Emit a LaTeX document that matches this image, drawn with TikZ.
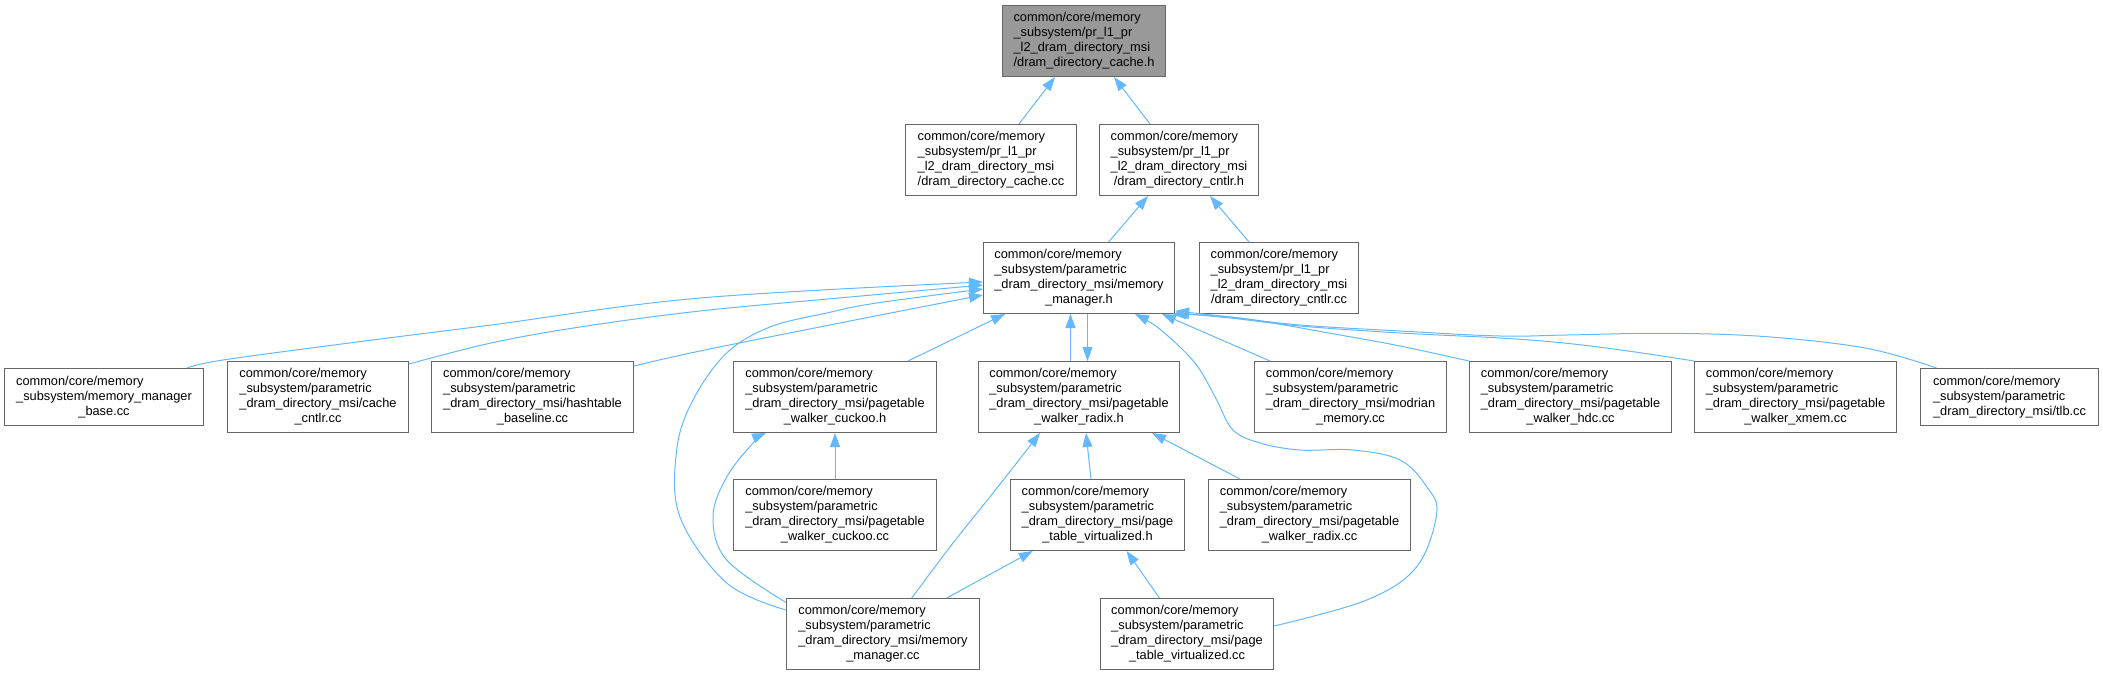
\documentclass[tikz,border=0pt]{standalone}
\usepackage{fontspec}
\setmainfont{Liberation Sans}
\usetikzlibrary{arrows.meta}
\definecolor{edgecol}{HTML}{63B8FF}
\definecolor{boxline}{HTML}{666666}
\definecolor{rootfill}{HTML}{999999}
\newcommand{\dlab}[2]{\begin{tabular}{@{}l@{}}#1\\\multicolumn{1}{@{}c@{}}{#2}\end{tabular}}
\tikzset{
  box/.style={draw=boxline, line width=1pt, fill=white, inner sep=0pt,
    font=\fontsize{12.8pt}{15pt}\selectfont, text=black},
  four/.style={minimum height=71pt},
  three/.style={minimum height=57pt},
  dep/.style={draw=edgecol, line width=1pt, -{Triangle[length=14pt,width=10pt]}},
}
\begin{document}
\begin{tikzpicture}[x=1pt,y=-1pt]
\useasboundingbox (0,0) rectangle (2103,675);
% row 0
\node[box, four, fill=rootfill, minimum width=163pt] (root) at (1084,41)
  {\dlab{common/core/memory\\\_subsystem/pr\_l1\_pr\\\_l2\_dram\_directory\_msi}{/dram\_directory\_cache.h}};
% row 1
\node[box, four, minimum width=171pt] (A) at (991,160)
  {\dlab{common/core/memory\\\_subsystem/pr\_l1\_pr\\\_l2\_dram\_directory\_msi}{/dram\_directory\_cache.cc}};
\node[box, four, minimum width=159pt] (B) at (1179,160)
  {\dlab{common/core/memory\\\_subsystem/pr\_l1\_pr\\\_l2\_dram\_directory\_msi}{/dram\_directory\_cntlr.h}};
% row 2
\node[box, four, minimum width=191pt] (C) at (1079,278)
  {\dlab{common/core/memory\\\_subsystem/parametric\\\_dram\_directory\_msi/memory}{\_manager.h}};
\node[box, four, minimum width=159pt] (D) at (1279,278)
  {\dlab{common/core/memory\\\_subsystem/pr\_l1\_pr\\\_l2\_dram\_directory\_msi}{/dram\_directory\_cntlr.cc}};
% row 3
\node[box, three, minimum width=199pt] (E) at (104,397)
  {\dlab{common/core/memory\\\_subsystem/memory\_manager}{\_base.cc}};
\node[box, four, minimum width=181pt] (N) at (318,397)
  {\dlab{common/core/memory\\\_subsystem/parametric\\\_dram\_directory\_msi/cache}{\_cntlr.cc}};
\node[box, four, minimum width=202pt] (O) at (532.5,397)
  {\dlab{common/core/memory\\\_subsystem/parametric\\\_dram\_directory\_msi/hashtable}{\_baseline.cc}};
\node[box, four, minimum width=203pt] (P) at (835,397)
  {\dlab{common/core/memory\\\_subsystem/parametric\\\_dram\_directory\_msi/pagetable}{\_walker\_cuckoo.h}};
\node[box, four, minimum width=201pt] (F) at (1079,397)
  {\dlab{common/core/memory\\\_subsystem/parametric\\\_dram\_directory\_msi/pagetable}{\_walker\_radix.h}};
\node[box, four, minimum width=192pt] (G) at (1350.5,397)
  {\dlab{common/core/memory\\\_subsystem/parametric\\\_dram\_directory\_msi/modrian}{\_memory.cc}};
\node[box, four, minimum width=202pt] (H) at (1570.5,397)
  {\dlab{common/core/memory\\\_subsystem/parametric\\\_dram\_directory\_msi/pagetable}{\_walker\_hdc.cc}};
\node[box, four, minimum width=202pt] (I) at (1795.5,397)
  {\dlab{common/core/memory\\\_subsystem/parametric\\\_dram\_directory\_msi/pagetable}{\_walker\_xmem.cc}};
\node[box, three, minimum width=178pt] (J) at (2009.5,397)
  {\dlab{common/core/memory\\\_subsystem/parametric}{\_dram\_directory\_msi/tlb.cc}};
% row 4
\node[box, four, minimum width=203pt] (Q) at (835,515)
  {\dlab{common/core/memory\\\_subsystem/parametric\\\_dram\_directory\_msi/pagetable}{\_walker\_cuckoo.cc}};
\node[box, four, minimum width=174pt] (K) at (1097.5,515)
  {\dlab{common/core/memory\\\_subsystem/parametric\\\_dram\_directory\_msi/page}{\_table\_virtualized.h}};
\node[box, four, minimum width=202pt] (L) at (1309.5,515)
  {\dlab{common/core/memory\\\_subsystem/parametric\\\_dram\_directory\_msi/pagetable}{\_walker\_radix.cc}};
% row 5
\node[box, four, minimum width=193pt] (R) at (883,634)
  {\dlab{common/core/memory\\\_subsystem/parametric\\\_dram\_directory\_msi/memory}{\_manager.cc}};
\node[box, four, minimum width=173pt] (M) at (1187,634)
  {\dlab{common/core/memory\\\_subsystem/parametric\\\_dram\_directory\_msi/page}{\_table\_virtualized.cc}};

% edges to root and B
\draw[dep] ([xshift=28pt]A.north) -- ([xshift=-29pt]root.south);
\draw[dep] ([xshift=-29pt]B.north) -- ([xshift=30pt]root.south);
\draw[dep] ([xshift=29.5pt]C.north) -- ([xshift=-31pt]B.south);
\draw[dep] ([xshift=-30pt]D.north) -- ([xshift=31pt]B.south);

% edges into C from the left
\draw[dep] plot[smooth, tension=0.6] coordinates {([xshift=83pt]E.north) (223,360) (357,342) (491,325) (700,298) ([yshift=-4pt]C.west)};
\draw[dep] plot[smooth, tension=0.6] coordinates {([yshift=-3pt]N.north east) (491,343) (580,327) (700,311) (850,297) ([yshift=-7pt]C.west)};
\draw[dep] plot[smooth, tension=0.6] coordinates {([yshift=-5pt]O.north east) (700,351) (850,321) ([yshift=-17pt]C.west)};
\draw[dep] plot[smooth, tension=0.6] coordinates {([yshift=24pt]R.west) (726.7,583) (680,517) (676.7,450) (693,400) (726.7,353) (770,327) (826.7,313) (876.7,303) ([yshift=-11pt]C.west)};

% edges into C from below
\draw[dep] ([xshift=73pt]P.north) -- ([xshift=-74pt]C.south);
\draw[dep] ([xshift=-8.5pt]F.north) -- ([xshift=-8.5pt]C.south);
\draw[dep] ([xshift=8.5pt]C.south) -- ([xshift=8.5pt]F.north);
\draw[dep] ([xshift=-80.5pt]G.north) -- ([xshift=83pt]C.south);
\draw[dep] plot[smooth, tension=0.6] coordinates {(H.north west) (1400,346) (1340,335) (1240,318) ([xshift=-3pt]C.south east)};
\draw[dep] plot[smooth, tension=0.6] coordinates {(I.north west) (1633,351.7) (1566.7,343.3) (1500,338) (1400,333) (1300,326) (1230,318) ([yshift=1pt]C.south east)};
\draw[dep] plot[smooth, tension=0.6] coordinates {([xshift=-73pt]J.north) (1866.7,348.3) (1766.7,336.7) (1666.7,333.3) (1566.7,335) (1500,336) (1400,331) (1300,325) (1230,317) ([yshift=3pt]C.south east)};
\draw[dep] plot[smooth, tension=0.6] coordinates {([yshift=8pt]M.east) (1366.7,600) (1416.7,566.7) (1436.7,513.3) (1426.7,486.7) (1400,460) (1353,450) (1300,450) (1260,443) (1233,430) (1216.7,400) (1200,370) (1183,350) (1156.7,326.7) ([xshift=56pt]C.south)};

% lower edges
\draw[dep] (Q.north) -- (P.south);
\draw[dep] plot[smooth, tension=0.6] coordinates {([yshift=-4.5pt]R.north west) (726.7,560) (713,517) (726.7,477) (753,443) ([xshift=-69pt]P.south)};
\draw[dep] plot[smooth, tension=0.6] coordinates {([xshift=28.7pt]R.north) (953,543) (993,493) ([xshift=-39pt]F.south)};
\draw[dep] ([xshift=63.7pt]R.north) -- ([xshift=-64.8pt]K.south);
\draw[dep] ([xshift=-6.5pt]K.north) -- ([xshift=7pt]F.south);
\draw[dep] ([xshift=-69.5pt]L.north) -- ([xshift=73pt]F.south);
\draw[dep] ([xshift=-27.5pt]M.north) -- ([xshift=29pt]K.south);
\end{tikzpicture}
\end{document}
